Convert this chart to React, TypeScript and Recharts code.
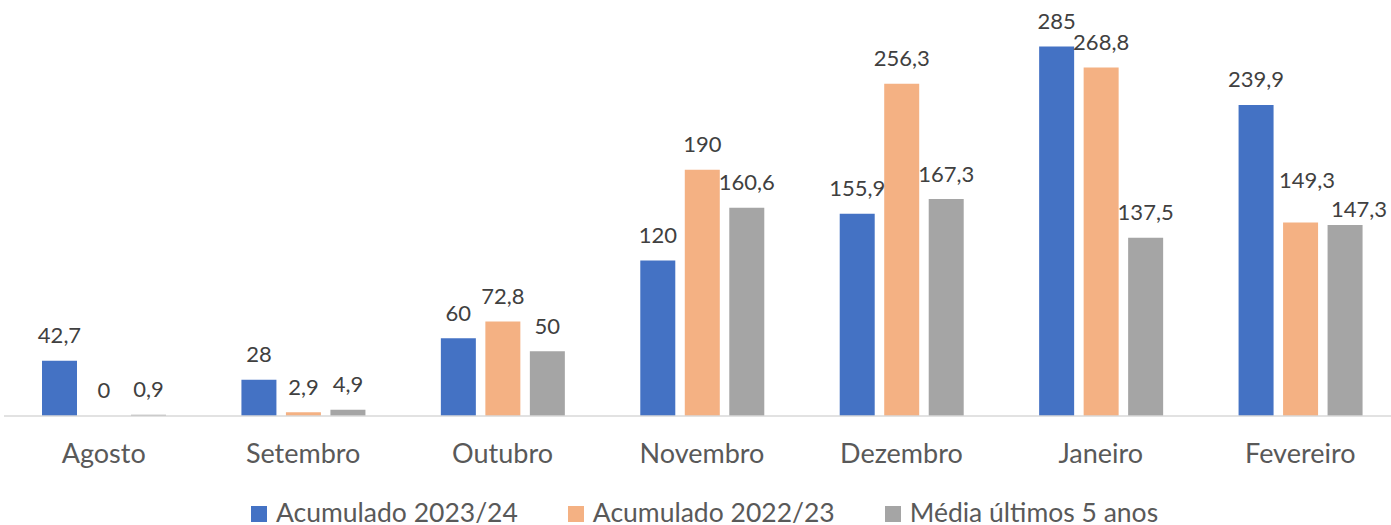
import React from "react";
import { BarChart, Bar, XAxis, YAxis, LabelList } from "recharts";

const months = ["Agosto", "Setembro", "Outubro", "Novembro", "Dezembro", "Janeiro", "Fevereiro"];
const acum2324 = [42.7, 28, 60, 120, 155.9, 285, 239.9];
const acum2223 = [0, 2.9, 72.8, 190, 256.3, 268.8, 149.3];
const media5 = [0.9, 4.9, 50, 160.6, 167.3, 137.5, 147.3];

const series = [
  { key: "a2324", name: "Acumulado 2023/24", color: "#4472C4", values: acum2324 },
  { key: "a2223", name: "Acumulado 2022/23", color: "#F4B183", values: acum2223 },
  { key: "m5", name: "Média últimos 5 anos", color: "#A5A5A5", values: media5 },
];

const data = months.map((m, i) => ({
  month: m,
  a2324: acum2324[i],
  a2223: acum2223[i],
  m5: media5[i],
}));

// labels that were dragged aside in the original so they don't collide
const nudge: Record<string, [number, number]> = {
  "a2223|Fevereiro": [6.5, -17],
  "m5|Fevereiro": [14, 9],
};

const FONT = "Lato, 'Open Sans', sans-serif";
const fmt = (v: number) => String(v).replace(".", ",");

function ValueLabel(props: any) {
  const { x, y, width, value, index, sk } = props;
  const [dx, dy] = nudge[`${sk}|${months[index]}`] ?? [0, 0];
  return (
    <text x={x + width / 2 + dx} y={y - 17.5 + dy} textAnchor="middle" fill="#404040" fontSize={22} fontFamily={FONT}>
      {fmt(value)}
    </text>
  );
}

function MonthTick(props: any) {
  const { x, y, payload } = props;
  return (
    <text x={x} y={y + 47} textAnchor="middle" fill="#595959" fontSize={27} fontFamily={FONT}>
      {payload.value}
    </text>
  );
}

export default function App() {
  return (
    <div style={s.wrap}>
      <BarChart width={1400} height={525} data={data} barSize={35} barGap={9.5}
        margin={{ top: 27, right: 0, left: 4, bottom: 69 }}>
        <XAxis dataKey="month" height={40} tickSize={0} tickMargin={0} tickLine={false}
          axisLine={{ stroke: "#D9D9D9", strokeWidth: 1.5 }} tick={<MonthTick />} interval={0} />
        <YAxis hide domain={[0, 300]} />
        {series.map(sr => (
          <Bar key={sr.key} dataKey={sr.key} name={sr.name} fill={sr.color} minPointSize={0.01} isAnimationActive={false}>
            <LabelList dataKey={sr.key} content={<ValueLabel sk={sr.key} />} />
          </Bar>
        ))}
      </BarChart>
      <div style={s.legend}>
        {series.map(sr => (
          <div key={sr.key} style={s.item}>
            <span style={{ ...s.swatch, background: sr.color }} />
            <span>{sr.name}</span>
          </div>
        ))}
      </div>
    </div>
  );
}

const s: Record<string, React.CSSProperties> = {
  wrap: { position: "absolute", left: 0, top: 0, width: 1391, height: 525, overflow: "hidden", background: "#fff" },
  legend: {
    position: "absolute", left: 251, top: 500.5, display: "flex", gap: 50,
    fontFamily: FONT, fontSize: 26.5, color: "#595959", lineHeight: "22px", whiteSpace: "nowrap",
  },
  item: { display: "flex", alignItems: "center" },
  swatch: { display: "inline-block", width: 16, height: 16, marginRight: 9, position: "relative", top: 2 },
};
